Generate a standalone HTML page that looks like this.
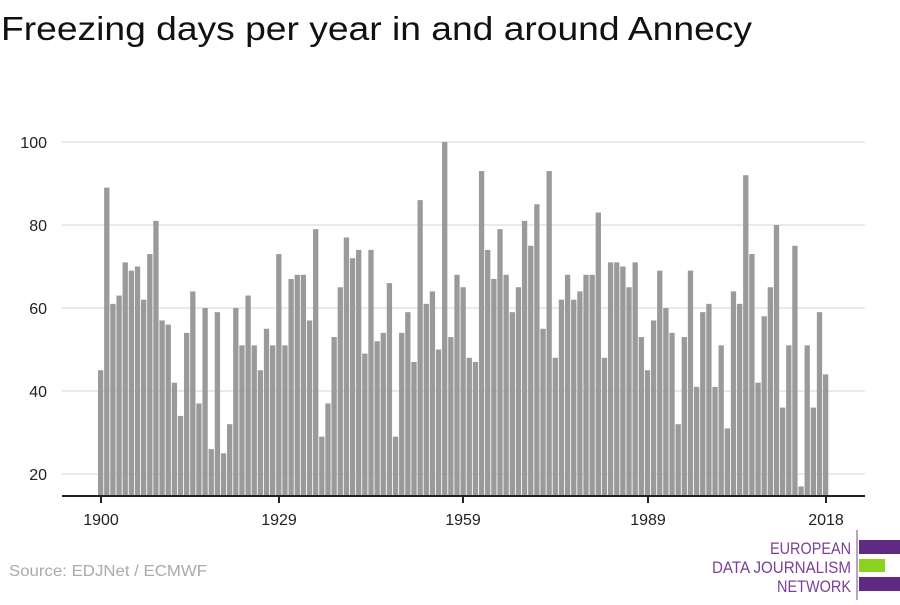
<!DOCTYPE html>
<html><head><meta charset="utf-8"><style>
body{margin:0;width:900px;height:600px;background:#fff;overflow:hidden;font-family:"Liberation Sans",sans-serif}
</style></head><body>
<svg id="s" width="900" height="600" xmlns="http://www.w3.org/2000/svg" font-family="Liberation Sans, sans-serif">
<text x="1" y="40" font-size="33" fill="#111" textLength="751" lengthAdjust="spacingAndGlyphs">Freezing days per year in and around Annecy</text>
<g id="grid"></g>
<g id="bars" fill="#9a9a9a"></g>
<line x1="62" x2="865" y1="496" y2="496" stroke="#222" stroke-width="2"/>
<g stroke="#222" stroke-width="2">
<line x1="101" x2="101" y1="496" y2="503"/><line x1="279" x2="279" y1="496" y2="503"/><line x1="463" x2="463" y1="496" y2="503"/><line x1="648" x2="648" y1="496" y2="503"/><line x1="826" x2="826" y1="496" y2="503"/>
</g>
<g font-size="16" fill="#222" text-anchor="middle">
<text x="101" y="525">1900</text><text x="279" y="525">1929</text><text x="463" y="525">1959</text><text x="648" y="525">1989</text><text x="826" y="525">2018</text>
</g>
<g font-size="16" fill="#222" text-anchor="end">
<text x="47" y="148">100</text><text x="47" y="231">80</text><text x="47" y="314">60</text><text x="47" y="397">40</text><text x="47" y="480">20</text>
</g>
<text x="9" y="576" font-size="16" fill="#aaa" textLength="198" lengthAdjust="spacingAndGlyphs">Source: EDJNet / ECMWF</text>
<line x1="857" x2="857" y1="530" y2="600" stroke="#7b3f99" stroke-width="1"/>
<g font-size="17" fill="#7b3f99">
<text x="770" y="554" textLength="81" lengthAdjust="spacingAndGlyphs">EUROPEAN</text><text x="712" y="573" textLength="139" lengthAdjust="spacingAndGlyphs">DATA JOURNALISM</text><text x="777" y="592" textLength="74" lengthAdjust="spacingAndGlyphs">NETWORK</text>
</g>
<rect x="859" y="540" width="41" height="14" fill="#5e2a84"/>
<rect x="859" y="559" width="26" height="13" fill="#8cd21e"/>
<rect x="859" y="577" width="41" height="14" fill="#5e2a84"/>
</svg>
<script>
var v=[45,89,61,63,71,69,70,62,73,81,57,56,42,34,54,64,37,60,26,59,25,32,60,51,63,51,45,55,51,73,51,67,68,68,57,79,29,37,53,65,77,72,74,49,74,52,54,66,29,54,59,47,86,61,64,50,100,53,68,65,48,47,93,74,67,79,68,59,65,81,75,85,55,93,48,62,68,62,64,68,68,83,48,71,71,70,65,71,53,45,57,69,60,54,32,53,69,41,59,61,41,51,31,64,61,92,73,42,58,65,80,36,51,75,17,51,36,59,44];
var NS="http://www.w3.org/2000/svg",g=document.getElementById("grid"),b=document.getElementById("bars");
[20,40,60,80,100].forEach(function(t){var y=474-(t-20)*4.15;var l=document.createElementNS(NS,"line");l.setAttribute("x1",62);l.setAttribute("x2",865);l.setAttribute("y1",y);l.setAttribute("y2",y);l.setAttribute("stroke","#e4e4e4");l.setAttribute("stroke-width","1.5");g.appendChild(l);});
v.forEach(function(d,i){var c=101+i*6.144;var y=474-(d-20)*4.15;var r=document.createElementNS(NS,"rect");r.setAttribute("x",(c-3).toFixed(2));r.setAttribute("width","5.3");r.setAttribute("y",y.toFixed(2));r.setAttribute("height",(496-y).toFixed(2));b.appendChild(r);});
</script>
</body></html>
